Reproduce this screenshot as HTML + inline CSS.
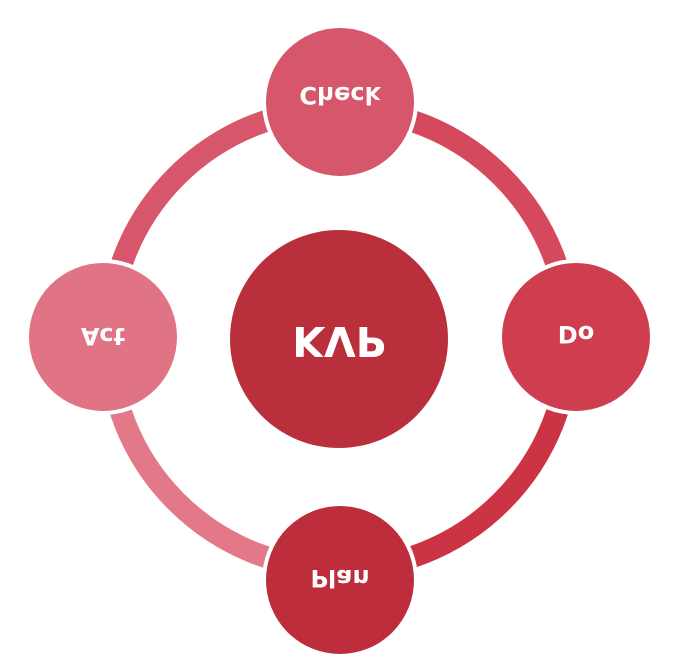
<!DOCTYPE html>
<html><head><style>
html,body{margin:0;padding:0;background:#fff;}
svg{display:block}
text{font-family:"DejaVu Sans","Liberation Sans",sans-serif;font-weight:bold;fill:#fff;}
</style></head><body>
<svg width="678" height="666" viewBox="0 0 678 666">
<g fill="none" stroke-width="22">
<path d="M339,109 A230,230 0 0 0 109,339" stroke="#d8566b"/>
<path d="M109,339 A230,230 0 0 0 339,569" stroke="#e27888"/>
<path d="M339,569 A230,230 0 0 0 569,339" stroke="#cc3344"/>
<path d="M569,339 A230,230 0 0 0 339,109" stroke="#d44a5c"/>
</g>
<circle cx="339" cy="339" r="109" fill="#b9303c"/>
<g stroke="#fff" stroke-width="4">
<circle cx="340" cy="102" r="76" fill="#d6566b"/>
<circle cx="103" cy="337" r="76" fill="#e07484"/>
<circle cx="576" cy="337" r="76" fill="#cf3e4e"/>
<circle cx="340" cy="580" r="76" fill="#bd2d3b"/>
</g>
<g text-anchor="middle">
<text transform="translate(339,342) scale(1,-1)" y="15" font-size="41">KVP</text>
<text transform="translate(340,95) scale(1,-1)" y="8" font-size="24">Check</text>
<text transform="translate(103,336) scale(1,-1)" y="8" font-size="24">Act</text>
<text transform="translate(576,334) scale(1,-1)" y="8" font-size="24">Do</text>
<text transform="translate(340,578) scale(1,-1)" y="8" font-size="24">Plan</text>
</g>
</svg>
</body></html>
